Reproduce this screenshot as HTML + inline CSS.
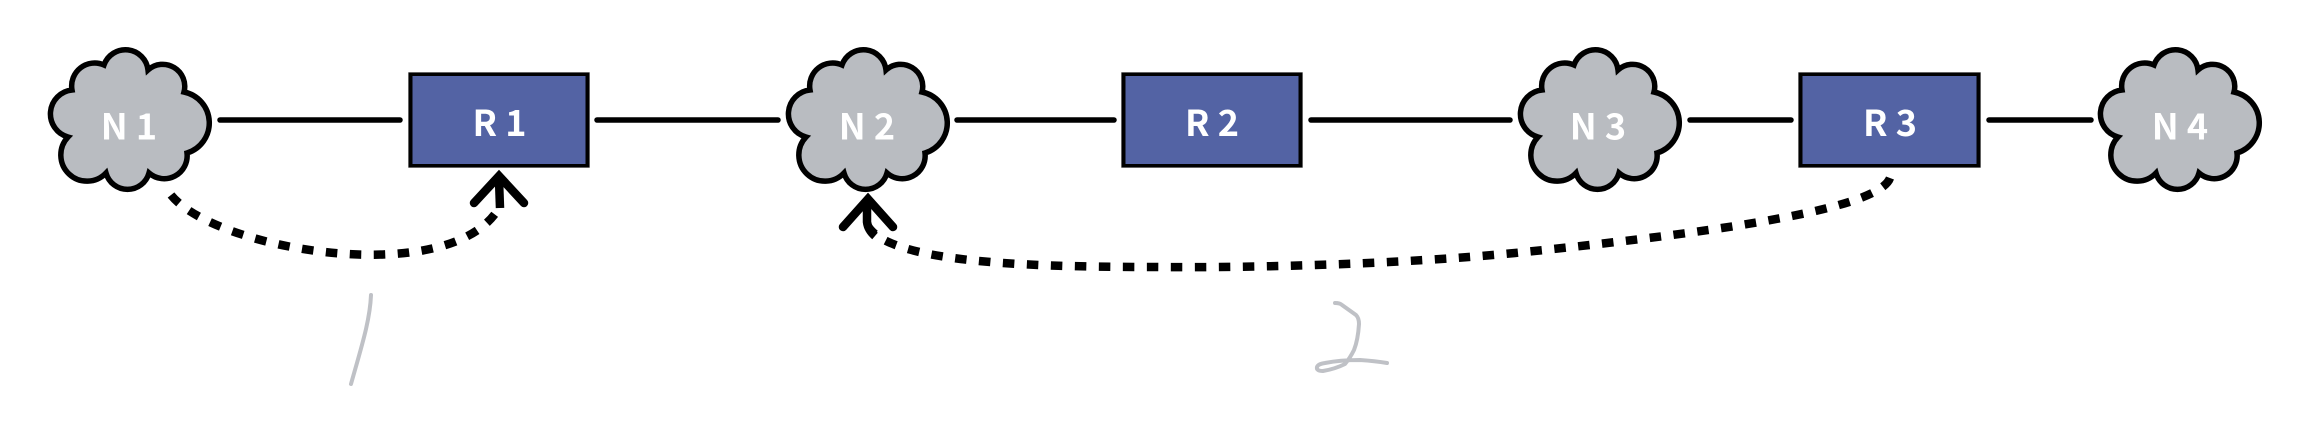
<!DOCTYPE html>
<html><head><meta charset="utf-8"><style>
html,body{margin:0;padding:0;background:#fff}
svg{display:block}
text{font-family:"Noto Sans CJK SC","Liberation Sans",sans-serif;font-weight:700;font-size:36px;fill:#fff;text-anchor:middle;word-spacing:0}
.l{stroke:#000;stroke-width:5.5;stroke-linecap:round;fill:none}
.h{stroke:#bfc1c6;stroke-width:4;stroke-linecap:round;stroke-linejoin:round;fill:none}
.d{stroke:#000;stroke-width:8.5;fill:none;stroke-dasharray:11.5 12.5}
.a{stroke:#000;stroke-width:8.5;stroke-linecap:round;stroke-linejoin:miter;fill:none}
</style></head><body>
<svg width="2310" height="438" viewBox="0 0 2310 438" xmlns="http://www.w3.org/2000/svg">
<defs>
<path id="c" d="M72 90A24 24 0 0 0 68 137A26 26 0 0 0 106 173A22.300 22.300 0 0 0 149 173A23 23 0 0 0 187 153A31.500 31.500 0 0 0 184 92A22 22 0 0 0 148 70A22.700 22.700 0 0 0 104 65A23 23 0 0 0 72 90Z" fill="#b9bcc1" stroke="#000" stroke-width="5.500" stroke-linejoin="miter"/>
</defs>
<g class="lines">
<line class="l" x1="220" y1="120" x2="400" y2="120"/>
<line class="l" x1="597" y1="120" x2="778" y2="120"/>
<line class="l" x1="957" y1="120" x2="1114" y2="120"/>
<line class="l" x1="1311" y1="120" x2="1510" y2="120"/>
<line class="l" x1="1690" y1="120" x2="1791" y2="120"/>
<line class="l" x1="1989" y1="120" x2="2091" y2="120"/>
</g>
<use href="#c"/>
<use href="#c" x="738"/>
<use href="#c" x="1470"/>
<use href="#c" x="2050"/>
<g>
<rect x="408" y="72" width="182" height="96" fill="#c9c9c9"/><rect x="408.500" y="72.500" width="181" height="95" fill="#000"/><rect x="412.500" y="76" width="173" height="88" fill="#5363a4"/>
<rect x="1121" y="72" width="182" height="96" fill="#c9c9c9"/><rect x="1121.500" y="72.500" width="181" height="95" fill="#000"/><rect x="1125.500" y="76" width="173" height="88" fill="#5363a4"/>
<rect x="1798" y="72" width="183" height="96" fill="#c9c9c9"/><rect x="1798.500" y="72.500" width="182" height="95" fill="#000"/><rect x="1802.500" y="76" width="174" height="88" fill="#5363a4"/>
</g>
<text x="129" y="139.500">N 1</text>
<text x="867" y="139.500">N 2</text>
<text x="1598" y="139.500">N 3</text>
<text x="2180" y="139.500">N 4</text>
<text x="499.500" y="136">R 1</text>
<text x="1212" y="136">R 2</text>
<text x="1890" y="136">R 3</text>
<path class="d" d="M171 195C215 250 450 290 499 208"/>
<path class="a" d="M474 203L499 176L524 203"/>
<path class="a" d="M499 180L500 208" style="stroke-linecap:butt"/>
<path class="d" d="M1890 178C1880 205 1760 228 1515 253C1400 264 1260 268 1154 267C1020 267 880 262 866 222"/>
<path class="a" d="M843 227L868 199L893 227"/>
<path class="a" d="M867 205L867 222Q868 230 875 236" style="stroke-linecap:butt"/>
<path class="h" d="M371 295C370 320 362 345 351 384"/>
<path class="h" d="M1335 303Q1340 303 1342 305L1356 315Q1359 318 1359 324Q1358 340 1354 350Q1350 358 1345 364Q1335 369 1323 371Q1316 371 1317 367Q1318 364 1325 363Q1340 360 1360 360Q1375 361 1387 363"/>
</svg>
</body></html>
